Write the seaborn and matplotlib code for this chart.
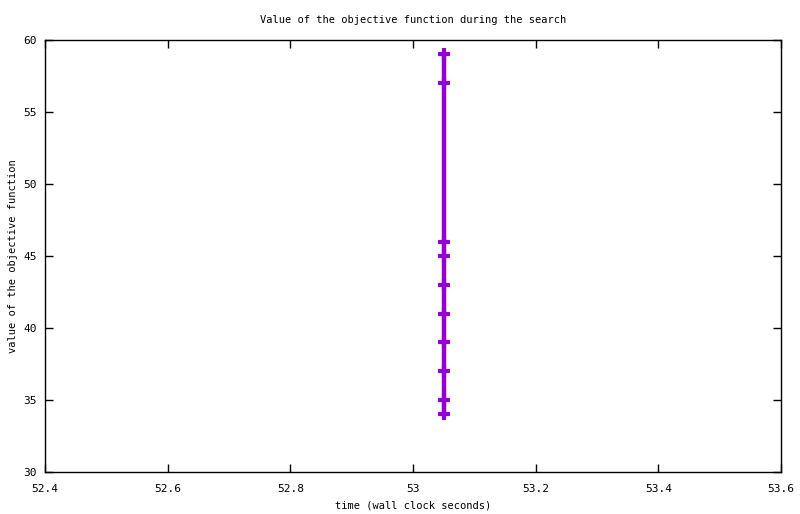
import matplotlib
matplotlib.use("Agg")
import matplotlib.pyplot as plt
import seaborn as sns
import pandas as pd

times = [53.05] * 10
objective = [59, 57, 46, 45, 43, 41, 39, 37, 35, 34]
x_ticks = [52.4, 52.6, 52.8, 53.0, 53.2, 53.4, 53.6]
x_tick_labels = ["52.4", "52.6", "52.8", "53", "53.2", "53.4", "53.6"]
y_ticks = [30, 35, 40, 45, 50, 55, 60]

sns.set_theme(style="white")
plt.rcParams['font.family'] = ['DejaVu Sans Mono']
plt.rcParams['text.color'] = 'black'
plt.rcParams['axes.labelcolor'] = 'black'

df = pd.DataFrame({"time": times, "objective": objective})

fig = plt.figure(figsize=(8, 5.14), dpi=100)
ax = fig.add_axes([45/800, 42/514, 736/800, 432/514])
sns.lineplot(data=df, x="time", y="objective", sort=False, ax=ax,
             color="#9400D3", linewidth=3.2, marker="+", markersize=9,
             markeredgewidth=3, markeredgecolor="#9400D3", estimator=None)

ax.set_xlim(52.4, 53.6)
ax.set_ylim(30, 60)
ax.set_xticks(x_ticks)
ax.set_xticklabels(x_tick_labels)
ax.set_yticks(y_ticks)
ax.tick_params(direction="in", length=6, width=1, top=True, right=True,
               left=True, bottom=True, labelsize=8, colors="black")
ax.tick_params(axis="x", pad=9)
ax.tick_params(axis="y", pad=6)
for s in ax.spines.values():
    s.set_color("black")
    s.set_linewidth(1)
ax.set_xlabel("time (wall clock seconds)", fontsize=7.5, labelpad=4)
ax.set_ylabel("value of the objective function", fontsize=7.5, labelpad=4)
ax.set_title("Value of the objective function during the search", fontsize=7.5,
             pad=12, color="black")
ax.grid(False)
fig.savefig("out.png", dpi=100)
